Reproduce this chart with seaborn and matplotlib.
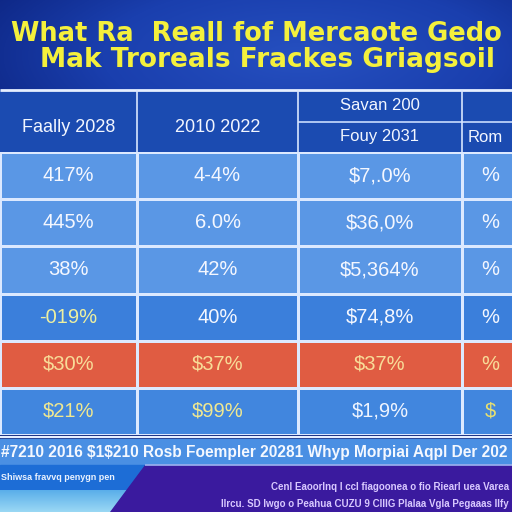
import numpy as np
import pandas as pd
import seaborn as sns
import matplotlib.pyplot as plt
from matplotlib.colors import ListedColormap, LinearSegmentedColormap
from matplotlib.patches import Rectangle, Polygon

sns.set_theme(style="white")
plt.rcParams['font.family'] = ['Liberation Sans', 'DejaVu Sans']

# chart text and values (garbled as in the picture)
title_lines = ["What Ra  Reall fof Mercaote Gedo", "Mak Troreals Frackes Griagsoil"]
header_top = ["", "", "Savan 200", ""]
header_bottom = ["Faally 2028", "2010 2022", "Fouy 2031", "Rom"]
col_a = ["417%", "445%", "38%", "-019%", "$30%", "$21%"]
col_b = ["4-4%", "6.0%", "42%", "40%", "$37%", "$99%"]
col_c = ["$7,.0%", "$36,0%", "$5,364%", "$74,8%", "$37%", "$1,9%"]
col_d = ["%", "%", "%", "%", "%", "$"]
row_kind = [0, 0, 0, 1, 2, 3]
footer_line = r"#7210 2016 \$1\$210 Rosb Foempler 20281 Whyp Morpiai Aqpl Der 202"
note_left = "Shiwsa fravvq penygn pen"
note_right = ["Cenl Eaoorlnq I ccl fiagoonea o fio Riearl uea Varea",
              "Ilrcu. SD Iwgo o Peahua CUZU 9 ClllG Plalaa Vgla Pegaaas Ilfy"]

row_colors = ["#5a97e5", "#3b7fdb", "#e05c42", "#4186de"]
text_colors = [
    ["#f4f7ff", "#f4f7ff", "#f4f7ff", "#f4f7ff"],
    ["#f4f7ff", "#f4f7ff", "#f4f7ff", "#f4f7ff"],
    ["#f4f7ff", "#f4f7ff", "#f4f7ff", "#f4f7ff"],
    ["#eef0a0", "#f4f7ff", "#f4f7ff", "#f4f7ff"],
    ["#f8dc98", "#f8dc98", "#f8dc98", "#f8dc98"],
    ["#f0e890", "#f0e890", "#eef4ff", "#e8e070"],
]

W = H = 512
fig = plt.figure(figsize=(5.12, 5.12), dpi=100)
bg = fig.add_axes([0, 0, 1, 1])
bg.set_xlim(0, W)
bg.set_ylim(H, 0)
bg.axis('off')

# background glow behind title
yy, xx = np.mgrid[0:H, 0:W]
dist = np.sqrt(((xx - 300) / 330.0) ** 2 + ((yy - 55) / 120.0) ** 2)
bg_cmap = LinearSegmentedColormap.from_list("bgc", ["#2650c0", "#1a3fae", "#0a1f78"])
bg.imshow(np.clip(dist, 0, 1.2), cmap=bg_cmap, extent=[0, W, H, 0], aspect='auto', zorder=0)

bg.text(256, 41, title_lines[0], ha='center', va='baseline', fontsize=18.5,
        fontweight='bold', family='DejaVu Sans', color='#f4f03c', zorder=3)
bg.text(268, 67, title_lines[1], ha='center', va='baseline', fontsize=19,
        fontweight='bold', family='DejaVu Sans', color='#f4f03c', zorder=3)

# header block
col_edges = [0, 137, 298, 462, 518]
bg.add_patch(Rectangle((0, 90), W, 62, color="#1b4bb1", zorder=1))
bg.hlines(90, 0, W, color="#e6efff", lw=2, zorder=2)
bg.hlines(122, 298, W, color="#c8dcff", lw=1.2, zorder=2)
bg.vlines(col_edges[1:4], 90, 152, color="#d8e6ff", lw=1.2, zorder=2)
for j in range(4):
    cx = (col_edges[j] + col_edges[j + 1]) / 2
    if header_top[j]:
        bg.text(cx, 106, header_top[j], ha='center', va='center', fontsize=12, color='#f2f6ff', zorder=3)
        bg.text(cx, 137, header_bottom[j], ha='center', va='center', fontsize=12, color='#f2f6ff', zorder=3)
    elif j == 3:
        bg.text(468, 137, header_bottom[j], ha='left', va='center', fontsize=12, color='#f2f6ff', zorder=3)
    else:
        bg.text(cx, 127, header_bottom[j], ha='center', va='center', fontsize=13, color='#f2f6ff', zorder=3)

# table body: one heatmap per column so widths can differ
cols = [col_a, col_b, col_c, col_d]
body_top, body_bot = 152, 435
cmap = ListedColormap(row_colors)
for j, labels in enumerate(cols):
    x0, x1 = col_edges[j], col_edges[j + 1]
    ax = fig.add_axes([x0 / W, 1 - body_bot / H, (x1 - x0) / W, (body_bot - body_top) / H])
    df = pd.DataFrame({"kind": row_kind})
    sns.heatmap(df, ax=ax, cmap=cmap, vmin=-0.5, vmax=3.5, cbar=False,
                annot=np.array(labels).reshape(-1, 1), fmt="",
                linewidths=0.8, linecolor="#dce9ff",
                xticklabels=False, yticklabels=False,
                annot_kws={"fontsize": 14.5})
    for i, t in enumerate(ax.texts):
        t.set_color(text_colors[i][j])

# footer band
bg.hlines(437, 0, W, color="#e6efff", lw=1.6, zorder=2)
bg.add_patch(Rectangle((0, 439), W, 26, color="#4a8fe3", zorder=1))
bg.text(1, 452, footer_line, ha='left', va='center', fontsize=11.2, fontweight='bold',
        color='#f4f8ff', zorder=3)

# bottom shapes
bg.add_patch(Rectangle((0, 465), W, 25, color="#1d6dd6", zorder=1))
low = np.linspace(0, 1, 30).reshape(-1, 1)
low_cmap = LinearSegmentedColormap.from_list("low", ["#5aaeea", "#9ad8f4"])
bg.imshow(low, cmap=low_cmap, extent=[0, W, 512, 490], aspect='auto', zorder=1)
bg.add_patch(Polygon([(145, 465), (W, 465), (W, H), (110, H)], closed=True,
                     color="#3a1a9e", zorder=2))
bg.hlines(465, 145, W, color="#9db4f0", lw=1.2, zorder=2)
bg.text(1, 477, note_left, ha='left', va='center', fontsize=6.5, fontweight='bold',
        color='#eaf2ff', zorder=3)
bg.text(509, 487, note_right[0], ha='right', va='center', fontsize=7, fontweight='bold',
        color='#d8c8ff', zorder=3)
bg.text(509, 504, note_right[1], ha='right', va='center', fontsize=7, fontweight='bold',
        color='#d8c8ff', zorder=3)

fig.savefig("out.png", dpi=100)
